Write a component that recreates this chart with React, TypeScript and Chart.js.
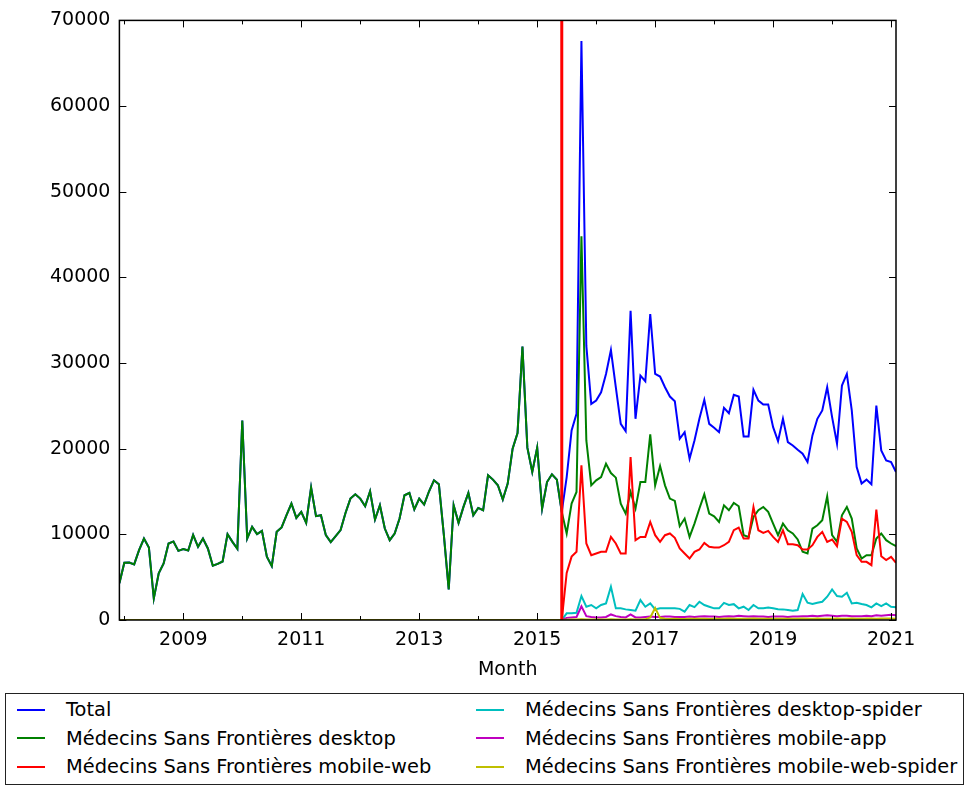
import React, { useEffect, useRef } from 'react'
import { Chart, registerables } from 'chart.js'

Chart.register(...registerables)
Chart.defaults.font.family = "'DejaVu Sans', sans-serif"

const START_MONTH = '2007-12'
const END_MONTH = '2021-02'
const SPLIT_MONTH = '2015-06'

// old stats (one number per month, desktop only), 2007-12 .. 2015-06
const legacyViews = [
  4300,
  6680, 6700, 6490, 8150, 9510, 8470, 2530, 5440, 6600, 8930, 9170, 8070,
  8270, 8110, 9940, 8540, 9510, 8350, 6330, 6560, 6830, 10020, 9120, 8310,
  23300, 9510, 10870, 10020, 10400, 7380, 6290, 10290, 10800, 12230, 13600, 11920,
  12620, 11340, 15460, 12120, 12230, 9900, 9090, 9780, 10490, 12500, 14170, 14680,
  14170, 13280, 15030, 11730, 13400, 10680, 9320, 10100, 11850, 14560, 14830, 12900,
  14170, 13480, 15030, 16310, 15840, 10000, 3580, 13400, 11340, 13200, 14830, 12230,
  13080, 12810, 16890, 16390, 15730, 14060, 15920, 20000, 21820, 31920, 20120, 17280,
  20120, 13010, 16110, 17010, 16390, 12620,
]

// pageview api, 2015-07 .. 2021-02
const totalNew = [
  16690, 22130, 24070, 67600, 32000, 25230,
  25620, 26590, 28730, 31520, 27170, 22900, 22050, 36100, 23490, 28530, 27870, 35720,
  28730, 28420, 27170, 26090, 25540, 21160, 21930, 18830, 20960, 23490, 25700, 22900,
  22440, 21930, 24770, 24150, 26280, 26090, 21430, 21430, 26870, 25620, 25150, 25150,
  22510, 20880, 23490, 20770, 20380, 19880, 19410, 18440, 21550, 23490, 24460, 27170,
  23680, 20580, 27370, 28730, 24460, 17860, 15920, 16390, 15840, 25040, 19800, 18630,
  18440, 17270,
]
const desktopNew = [
  10100, 13590, 14950, 44800, 20960, 15720,
  16300, 16690, 18250, 17160, 16620, 13590, 12420, 14950, 13010, 16110, 16110, 21660,
  15720, 17970, 15720, 14170, 13900, 10950, 11840, 9700, 11260, 13010, 14670, 12420,
  12110, 11450, 13390, 12810, 13660, 13280, 9900, 9700, 12030, 12810, 13200, 12620,
  11260, 9900, 11260, 10480, 10100, 9400, 7960, 7760, 10670, 11060, 11650, 14440,
  9900, 9120, 12230, 13200, 11840, 8350, 7180, 7570, 7570, 9510, 10100, 9320,
  8930, 8620,
]
const mobileWebNew = [
  5500, 7400, 7960, 18050, 8930, 7570,
  7760, 7960, 7960, 9700, 8930, 7760, 7760, 19020, 9320, 9700, 9700, 11450,
  9900, 9120, 9900, 10100, 9600, 8350, 7760, 7180, 7960, 8230, 9000, 8540,
  8460, 8460, 8730, 9120, 10480, 10790, 9510, 9510, 13200, 10480, 10170, 10400,
  9700, 9120, 10480, 8850, 8850, 8730, 8230, 8230, 8730, 9700, 10290, 9120,
  9400, 8620, 11840, 11450, 10290, 7570, 6790, 6790, 6400, 12890, 7450, 6990,
  7370, 6670,
]
const desktopSpiderNew = [
  780, 800, 850, 2800, 1550, 1750,
  1360, 1750, 1940, 3880, 1360, 1360, 1240, 1160, 1090, 2330, 1550, 1940,
  1240, 1360, 1360, 1360, 1360, 1300, 970, 1750, 1500, 2130, 1750, 1550,
  1360, 1360, 2000, 1750, 1850, 1360, 1550, 1160, 1750, 1360, 1360, 1450,
  1360, 1250, 1240, 1160, 1090, 1160, 3030, 2020, 1860, 2020, 2130, 2720,
  3570, 2800, 2720, 3180, 1940, 2020, 1860, 1750, 1480, 1940, 1630, 1940,
  1550, 1480,
]
const mobileAppNew = [
  250, 300, 350, 1600, 450, 350,
  300, 300, 350, 650, 450, 350, 300, 650, 300, 300, 350, 400,
  350, 350, 400, 400, 350, 350, 350, 400, 350, 400, 450, 400,
  400, 350, 400, 450, 400, 500, 450, 400, 450, 400, 400, 350,
  400, 400, 400, 350, 400, 400, 450, 450, 500, 450, 500, 550,
  500, 450, 500, 500, 450, 450, 450, 500, 450, 550, 500, 550,
  600, 550,
]
const mobileWebSpiderNew = [
  40, 50, 60, 80, 60, 50,
  50, 60, 60, 80, 60, 60, 60, 80, 60, 60, 80, 300,
  1400, 250, 150, 120, 150, 130, 120, 150, 140, 160, 150, 130,
  150, 140, 160, 170, 150, 160, 140, 150, 170, 160, 150, 140,
  150, 160, 150, 140, 150, 160, 170, 160, 150, 170, 160, 150,
  160, 170, 150, 160, 170, 150, 160, 170, 180, 160, 170, 180,
  170, 160,
]

const yTicks = [0, 10000, 20000, 30000, 40000, 50000, 60000, 70000]
const xTickYears = [2008, 2009, 2010, 2011, 2012, 2013, 2014, 2015, 2016, 2017, 2018, 2019, 2020, 2021]

const seriesNames = [
  'Total',
  'Médecins Sans Frontières desktop',
  'Médecins Sans Frontières mobile-web',
  'Médecins Sans Frontières desktop-spider',
  'Médecins Sans Frontières mobile-app',
  'Médecins Sans Frontières mobile-web-spider',
]
const seriesColors = ['#0000ff', '#008000', '#ff0000', '#00bfbf', '#bf00bf', '#bfbf00']

function monthRange(from: string, to: string) {
  const out: string[] = []
  let [y, m] = from.split('-').map(Number)
  const [ey, em] = to.split('-').map(Number)
  while (y < ey || (y === ey && m <= em)) {
    out.push(`${y}-${String(m).padStart(2, '0')}`)
    m++
    if (m > 12) { m = 1; y++ }
  }
  return out
}
const toYear = (s: string) => {
  const [y, m] = s.split('-').map(Number)
  return y + (m - 1) / 12
}

const months = monthRange(START_MONTH, END_MONTH)
const beforeApi = legacyViews.map(() => 0)

const seriesValues = [
  [...legacyViews, ...totalNew],
  [...legacyViews, ...desktopNew],
  [...beforeApi, ...mobileWebNew],
  [...beforeApi, ...desktopSpiderNew],
  [...beforeApi, ...mobileAppNew],
  [...beforeApi, ...mobileWebSpiderNew],
]

// matplotlib look: inward ticks on all sides, box frame, red line at the api switch
const framePlugin = {
  id: 'frame',
  afterDatasetsDraw(chart: any) {
    const { ctx, chartArea, scales } = chart
    const { left, right, top, bottom } = chartArea
    ctx.save()
    const sx = scales.x.getPixelForValue(toYear(SPLIT_MONTH))
    ctx.strokeStyle = '#ff0000'
    ctx.lineWidth = 3
    ctx.beginPath(); ctx.moveTo(sx, top); ctx.lineTo(sx, bottom); ctx.stroke()

    ctx.strokeStyle = '#000'
    ctx.lineWidth = 1
    ctx.beginPath()
    yTicks.forEach((v) => {
      const py = Math.round(scales.y.getPixelForValue(v)) + 0.5
      ctx.moveTo(left, py); ctx.lineTo(left + 7, py)
      ctx.moveTo(right, py); ctx.lineTo(right - 7, py)
    })
    xTickYears.forEach((yr) => {
      const len = yr % 2 ? 7 : 4
      const px = Math.round(scales.x.getPixelForValue(yr)) + 0.5
      ctx.moveTo(px, bottom); ctx.lineTo(px, bottom - len)
      ctx.moveTo(px, top); ctx.lineTo(px, top + len)
    })
    ctx.stroke()
    ctx.lineWidth = 1.5
    ctx.strokeRect(left, top, right - left, bottom - top)
    ctx.restore()
  },
}

function MonthlyChart() {
  const canvasRef = useRef<HTMLCanvasElement>(null)
  const chartRef = useRef<Chart | null>(null)

  useEffect(() => {
    if (!canvasRef.current) return
    const ctx = canvasRef.current.getContext('2d')
    if (!ctx) return

    chartRef.current = new Chart(ctx, {
      type: 'line',
      data: {
        datasets: seriesValues.map((vals, i) => ({
          label: seriesNames[i],
          data: months.map((m, j) => ({ x: toYear(m), y: vals[j] })),
          borderColor: seriesColors[i],
          backgroundColor: seriesColors[i],
          borderWidth: 2,
          pointRadius: 0,
          tension: 0,
          fill: false,
          order: seriesValues.length - i,
        })),
      },
      options: {
        animation: false,
        responsive: true,
        maintainAspectRatio: false,
        layout: { padding: { top: 20, right: 73, left: 0, bottom: 0 } },
        plugins: { legend: { display: false }, tooltip: { enabled: false } },
        scales: {
          x: {
            type: 'linear',
            min: toYear(START_MONTH),
            max: toYear(END_MONTH),
            afterBuildTicks: (s: any) => { s.ticks = xTickYears.map((v) => ({ value: v })) },
            afterFit: (s: any) => { s.height = 70 },
            grid: { display: false, drawTicks: false },
            border: { display: false },
            ticks: {
              autoSkip: false, maxRotation: 0, padding: 9, color: '#000', font: { size: 19 },
              callback: (v: any) => (Number(v) % 2 ? String(v) : ''),
            },
            title: { display: true, text: 'Month', color: '#000', font: { size: 19 }, padding: { top: 0, bottom: 9 } },
          },
          y: {
            min: 0,
            max: 70000,
            afterBuildTicks: (s: any) => { s.ticks = yTicks.map((v) => ({ value: v })) },
            afterFit: (s: any) => { s.width = 119.4 },
            grid: { display: false, drawTicks: false },
            border: { display: false },
            ticks: { padding: 9, color: '#000', font: { size: 19 }, callback: (v: any) => String(v) },
          },
        },
      },
      plugins: [framePlugin],
    })

    return () => { if (chartRef.current) { chartRef.current.destroy(); chartRef.current = null } }
  }, [])

  return <canvas ref={canvasRef} />
}

const legendCols = [17, 476]
const legendRows = [709.5, 738, 766.5]

export default function App() {
  return (
    <div style={{ position: 'absolute', left: 0, top: 0, width: 969, height: 788, background: '#fff', fontFamily: "'DejaVu Sans', sans-serif" }}>
      <div style={{ position: 'absolute', left: 0, top: 0, width: 969, height: 690 }}>
        <MonthlyChart />
      </div>
      <div style={{ position: 'absolute', left: 5, top: 693, width: 959, height: 92, boxSizing: 'border-box', border: '1.5px solid #222' }} />
      {seriesNames.map((name, i) => {
        const col = Math.floor(i / 3)
        const row = i % 3
        return (
          <div key={name} style={{ position: 'absolute', left: legendCols[col], top: legendRows[row] - 14, height: 28, display: 'flex', alignItems: 'center', whiteSpace: 'nowrap', fontSize: 19.4, color: '#000' }}>
            <span style={{ display: 'inline-block', width: 28, height: 2, background: seriesColors[i], marginRight: 21 }} />
            <span>{name}</span>
          </div>
        )
      })}
    </div>
  )
}
